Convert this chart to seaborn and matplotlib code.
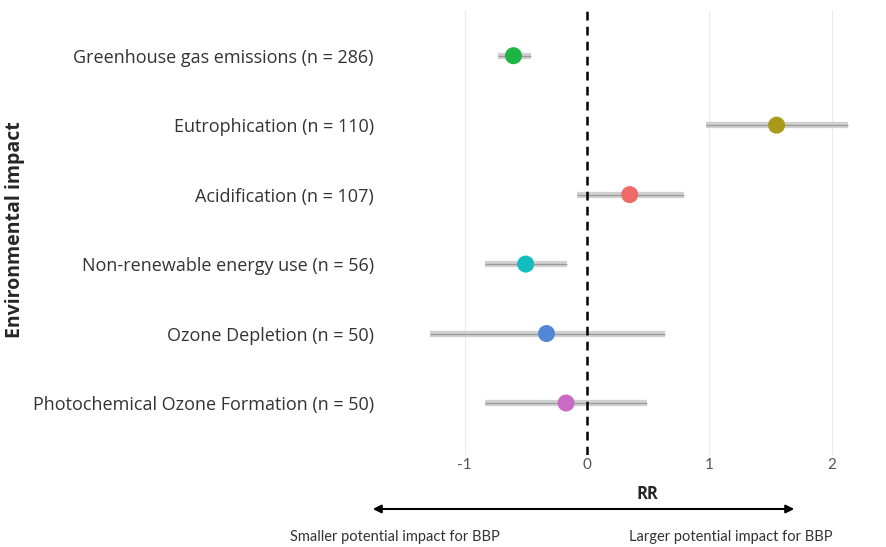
import matplotlib
matplotlib.use("Agg")
import matplotlib.pyplot as plt
import seaborn as sns
import pandas as pd

# Dados
impactos = ['Greenhouse gas emissions (n = 286)',
            'Eutrophication (n = 110)',
            'Acidification (n = 107)',
            'Non-renewable energy use (n = 56)',
            'Ozone Depletion (n = 50)',
            'Photochemical Ozone Formation (n = 50)']
rr = [-0.60, 1.55, 0.35, -0.50, -0.33, -0.17]
ic_inf = [-0.73, 0.97, -0.08, -0.83, -1.28, -0.83]
ic_sup = [-0.46, 2.13, 0.79, -0.16, 0.64, 0.49]
cores = ['#1fb544', '#a99a1c', '#ee6a66', '#12bcbf', '#5486d8', '#c96bc6']

df = pd.DataFrame({'impacto': impactos, 'rr': rr, 'inf': ic_inf, 'sup': ic_sup})

sns.set_style('white')
plt.rcParams['font.family'] = ['Lato', 'DejaVu Sans']

fig = plt.figure(figsize=(8.86, 5.47), dpi=100)
ax = fig.add_axes([0.4345, 0.168, 0.558, 0.814])

# linhas de grade verticais
for gx in [-1, 1, 2]:
    ax.axvline(gx, color='#ebebeb', lw=0.8, zorder=0)

# intervalos de confiança
ypos = range(len(df))
ax.hlines(ypos, df['inf'], df['sup'], color='#d0d0d0', lw=4.5, zorder=1)
ax.hlines(ypos, df['inf'], df['sup'], color='#9a9a9a', lw=0.9, zorder=2)

ax.axvline(0, color='black', lw=1.8, ls=(0, (3.5, 2.5)), zorder=3)

sns.scatterplot(data=df, x='rr', y='impacto', hue='impacto', palette=cores,
                s=150, edgecolor='none', legend=False, zorder=4, ax=ax)

ax.set_xlim(-1.65, 2.39)
ax.set_ylim(5.75, -0.66)
ax.set_xticks([-1, 0, 1, 2])
ax.set_xticklabels(['-1', '0', '1', '2'], color='#555555', fontsize=11)
ax.tick_params(axis='y', length=0, pad=8)
ax.tick_params(axis='x', length=0, pad=2)
for lab in ax.get_yticklabels():
    lab.set_family(['Open Sans', 'DejaVu Sans'])
    lab.set_fontsize(13)
    lab.set_color('#333333')
ax.set_xlabel('')
ax.set_ylabel('')
for s in ax.spines.values():
    s.set_visible(False)

fig.text(0.017, 1 - 230 / 547, 'Environmental impact', rotation=90, fontsize=14,
         fontweight='bold', ha='center', va='center',
         family=['Open Sans', 'DejaVu Sans'])
fig.text(647 / 886, 1 - 494 / 547, 'RR', fontsize=12, fontweight='bold',
         ha='center', va='center', family=['Open Sans', 'DejaVu Sans'])
fig.add_artist(matplotlib.patches.FancyArrowPatch(
    (370 / 886, 1 - 509 / 547), (797 / 886, 1 - 509 / 547),
    transform=fig.transFigure, arrowstyle='<|-|>', mutation_scale=12,
    color='black', lw=1.5))
fig.text(395 / 886, 1 - 537 / 547, 'Smaller potential impact for BBP',
         fontsize=10.5, ha='center', va='center', color='#333333')
fig.text(731 / 886, 1 - 537 / 547, 'Larger potential impact for BBP',
         fontsize=10.5, ha='center', va='center', color='#333333')

fig.savefig('out.png', dpi=100)
